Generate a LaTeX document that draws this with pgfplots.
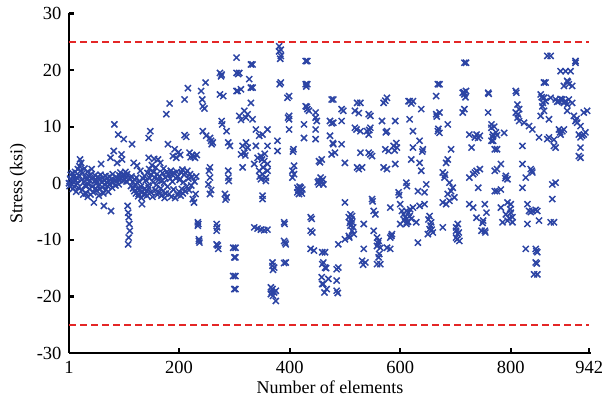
\documentclass[border=0pt]{standalone}
\usepackage{fontspec}
\setmainfont{Liberation Serif}
\usepackage{pgfplots}
\pgfplotsset{compat=1.18}
\definecolor{mblue}{RGB}{44,68,164}
\definecolor{mred}{RGB}{228,38,38}
\begin{document}
\begin{tikzpicture}
\begin{axis}[
 scale only axis, width=522pt, height=339.5pt,
 xmin=1, xmax=945, ymin=-30, ymax=30,
 axis lines=left, axis line style={-, line width=2.6pt},
 xtick={1,200,400,600,800,942}, ytick={-30,-20,-10,0,10,20,30},
 tick align=inside, major tick length=5pt, tick style={line width=2.2pt, black},
 tick label style={font=\fontsize{18.5}{20}\selectfont},
 xticklabel style={yshift=-5pt},
 yticklabel style={xshift=-4pt},
 label style={font=\fontsize{18}{20}\selectfont},
 /pgf/number format/assume math mode=true,
 xlabel={Number of elements}, ylabel={Stress (ksi)},
 xlabel style={at={(axis description cs:0.5,0)}, anchor=base, yshift=-41pt},
 ylabel style={at={(axis description cs:-0.0977,0.5)}, anchor=center},
]
\coordinate (SW) at (rel axis cs:0,0);
\coordinate (NE) at (rel axis cs:1,1);
\addplot[mred, line width=2pt, dash pattern=on 7pt off 4pt] coordinates {(1,25) (942,25)};
\addplot[mred, line width=2pt, dash pattern=on 7pt off 4pt] coordinates {(1,-25) (942,-25)};
\addplot[only marks, mark=x, mark size=4.3pt, mblue, mark options={line width=1.5pt}] coordinates {
(1,0) (2,-0.5) (3,0.8) (4,1.5) (5,-0.2) (6,0.4) (7,1.8) (8,-1) (9,0.3) (10,1.2) (11,-0.6) (12,2) (13,0.5) (14,-1.5) (15,1) (16,0) (17,2.5) (18,-0.8) (19,1.4) (20,3) (21,4.2) (22,2.2) (23,3.6) (24,0.6) (25,-1.2) (26,1.8) (27,-2) (28,0.2) (29,2.6) (30,-0.4) (31,1) (32,-1.8) (33,0.7) (34,2) (35,-2.4) (36,-0.2) (37,1.2) (38,-1) (39,0.5) (40,-2) (41,1.6) (42,2.5) (43,-0.6) (44,0.9) (45,-1.6) (46,-3.4) (47,0.3) (48,1.4) (49,-0.9) (50,0.6) (51,-1.3) (52,0.1) (53,1.1) (54,-0.5) (55,-2.2) (56,0.8) (57,-1) (58,1.5) (59,3.4) (60,0.2) (61,-0.7) (62,1) (63,-1.8) (64,-4) (65,0.5) (66,-0.3) (67,1.3) (68,-1.1) (69,0.2) (70,0.9) (71,-0.5) (72,-1.5) (73,0.4) (74,1.2) (75,-0.2) (76,4.5) (77,-4.9) (78,0.7) (79,-0.8) (80,1.6) (81,0.1) (82,5.7) (83,10.4) (84,0.5) (85,-0.4) (86,1.1) (87,0.3) (88,3.6) (89,0.8) (90,8.6) (91,-0.2) (92,1.4) (93,0.6) (94,1.9) (95,0.9) (96,5.1) (97,4.2) (98,1.2) (99,0.4) (100,7.8) (101,1.5) (102,0.7) (103,2) (104,1) (105,0.3) (106,1.6) (107,-4) (108,-5.2) (109,-6) (110,-7.2) (111,-8.4) (109,-9.6) (108,-10.8) (112,0.8) (113,-0.5) (114,1.2) (115,6.9) (116,0.2) (117,-0.9) (118,3.6) (119,-1.4) (120,0.6) (121,-0.2) (122,-1.8) (123,1) (124,3.1) (125,-1) (126,-2.3) (127,-1.9) (128,0.3) (129,-1.2) (130,2.2) (131,-0.6) (132,-2.6) (133,-3.7) (134,-1.5) (135,0.8) (136,-2) (137,1.3) (138,-0.9) (139,-1.9) (140,0.5) (141,-1.4) (142,-2.2) (143,1.8) (144,-0.4) (145,-0.8) (145,4.5) (145,8) (148,9.2) (146,2.5) (147,0.9) (149,-1.6) (150,1.5) (151,3.2) (152,-2.4) (153,0.2) (154,2) (155,4.3) (156,1) (157,-1.2) (158,2.8) (159,-0.3) (160,1.6) (161,-2) (162,4.2) (163,0.6) (164,-1.6) (165,1.2) (166,3.6) (167,-0.9) (168,-2.2) (169,0.4) (170,1.8) (171,-1.4) (172,2.6) (173,0.1) (174,-2.6) (175,1) (176,-1.8) (177,12.2) (178,2) (179,-0.6) (180,6.9) (181,1.4) (182,-1.9) (183,14.1) (184,0.8) (185,2.2) (186,-2.4) (187,1.6) (188,0.3) (189,4.8) (190,-1.1) (191,1.8) (192,6) (193,-2.6) (194,0.9) (195,4.5) (196,2) (197,-2) (198,1.2) (199,5.5) (200,-1.5) (201,0.6) (202,5) (203,-2.2) (204,1.9) (205,-1) (206,2.4) (207,-1.8) (208,0.2) (209,1.5) (210,14.8) (210,8.5) (211,-1.4) (212,1.8) (213,8.2) (214,-0.6) (215,2.2) (216,16.8) (217,0.8) (218,-1.2) (219,5.4) (220,1.6) (221,4.6) (222,-0.4) (223,1.1) (224,5) (225,-2.8) (226,4.7) (227,-3.4) (228,0.3) (229,4.5) (230,-1.9) (232,5) (231,1.2)
(234,-6.9) (234,-7.5) (236,-9.9) (237,-10.5) (235,-7.2) (236,-10.2)
(240,16.3) (242,14.8) (243,13.6) (246,13.2) (248,17.8) (243,9.2) (249,8.4) (256,8) (259,6.9) (261,7.2) (258,7.5) (256,2.8) (256,1) (253,-0.2) (256,-1.9) (258,-1.2) (254,2.2)
(268,-7.2) (268,-8.4) (268,-10.8) (271,-11.6) (270,-11) (269,-7.8)
(274,19.5) (277,19.2) (274,15.7) (280,15.4) (277,11) (278,10.4) (276,18.9)
(286,9.2) (289,7.2) (292,6.6) (289,2.2) (289,1) (283,-1.9) (286,-2.5) (284,-2.9) (290,0.4)
(298,-11.4) (300,-13.1) (298,-16.4) (300,-18.7) (302,-11.4) (302,-13.1) (302,-16.4) (302,-18.7)
(304,22.2) (304,19.5) (304,16.3) (309,19.5) (306,16.3) (312,16.6) (307,19.3)
(330,21) (333,21) (327,18.4) (330,16.9) (333,16.9)
(309,11.9) (318,12.8) (324,12.2) (330,14.2) (333,11.3) (312,11.2) (321,11.6)
(315,6.6) (321,7.2) (318,5.4) (315,2.8) (324,6.3) (339,6.6) (312,5.1) (320,4.9)
(339,9.5) (360,9.5) (351,8.6) (345,8.4) (360,6.6)
(342,4.5) (348,4.8) (354,3.9) (360,3.4) (336,3.4) (345,2.2) (351,1.6) (357,1) (360,2.2) (348,0.7) (357,0.4) (352,2.8) (346,1.2) (355,5.2) (350,4.2)
(351,-2.2) (351,-2.8) (336,-7.8) (348,-8.2) (360,-8.2) (342,-8) (354,-8.3)
(369,-14) (369,-14.6) (372,-14.9) (370,-15.3)
(366,-18.4) (369,-18.7) (372,-19.3) (375,-20.8) (366,-19.6) (375,-19) (370,-19.9) (368,-19.2)
(381,24.2) (384,23.6) (384,22.5) (381,23.3) (384,17.8) (382,17.5) (383,22)
(378,7.5) (378,5.7)
(399,15.4) (396,15.1) (399,11.9) (399,11.3) (399,9.5) (397,11.6)
(407,6) (408,3.1) (405,2.2) (408,1.6) (405,1) (406,5.6)
(414,-0.8) (420,-1.4) (417,-1.9) (423,-1.1) (414,-1.6) (420,-0.8) (416,-1.2) (422,-1.8) (418,-0.6)
(390,-6.9) (390,-10.2) (393,-10.8) (393,-14) (391,-7.2) (392,-10.5) (390,-14.1)
(429,21.6) (432,21.6) (429,17.5) (432,17.5) (430,17.1)
(429,13.6) (432,13.1) (435,12.8) (426,10.4) (426,8) (431,13.5)
(438,-6) (438,-8.4) (441,-8.7) (438,-11.6) (444,-11.9) (440,-6.3)
(447,12.5) (447,11.6) (447,9.5) (447,7.8) (449,11)
(453,3.9) (453,0.4) (453,-0.2) (456,1) (455,3.7) (451,0.2)
(459,-12.2) (459,-14.3) (459,-17.8)
(479,14.8) (476,14.8) (494,13.1) (497,12.8) (473,11) (479,10.7) (494,11) (476,10.6)
(473,8.4) (479,6.9) (482,5.4) (476,5.1) (494,6.9) (500,3.6) (478,7.1)
(458,4.2) (458,0.4) (461,-0.2) (460,0.7)
(500,-3.4) (510,-5.5) (513,-5.8) (507,-6) (513,-6.9) (510,-7.5) (513,-8.4) (516,-9) (507,-9.3) (500,-9.9) (488,-10.8) (512,-6.4) (509,-7) (515,-7.8) (508,-9.6)
(464,-12.2) (461,-14) (464,-14.9) (458,-16.6) (470,-16.9) (461,-17.8) (467,-18.7) (485,-19) (485,-17.2) (485,-15.2) (488,-14.9) (466,-15) (463,-19.3) (487,-19.4)
(522,14.2) (528,14.2) (518,12.8) (543,12.2) (546,11.9) (525,12.4)
(518,9.8) (528,9.2) (540,9.2) (546,9.8) (543,8.6) (521,9.5) (544,9.4)
(528,5.4) (543,5.4) (549,4.8) (522,2.8) (531,2.8) (546,5.1) (525,2.5)
(534,-7.2) (534,-11.6) (531,-13.7) (537,-14) (533,-14.4)
(549,-2.8) (552,-4.9) (555,-5.5) (550,-3.2)
(552,-8.4) (558,-9.6) (561,-10.2) (558,-11.1) (564,-11.4) (561,-13.1) (558,-14.3) (564,-14.3) (560,-10.6) (562,-12.5)
(570,14.2) (576,15.1) (567,11) (576,9.2) (591,11) (573,14.6) (574,9)
(570,2.8) (576,2.5) (573,6) (579,5.7) (588,6.6) (594,6.3) (591,3.4) (590,5.8) (593,7.1)
(582,-4.3) (585,-9) (582,-9.6) (576,-11.4) (582,-11.6) (584,-9.3)
(597,-1.6) (600,-3.7) (603,-4.9) (606,-5.5) (609,-6) (600,-7.2) (612,-6.9) (598,-2.1) (607,-6.5)
(615,14.5) (617,14.5) (623,14.5) (638,13.1) (620,14.1)
(617,11.3) (623,9.2) (635,7.5) (641,6) (623,6.3) (620,4.2) (635,3.6) (638,2.2) (640,5.6)
(611,0.1) (647,-0.2) (644,-1.6) (632,-1.4) (612,-0.5)
(611,-4.9) (617,-5.8) (623,-4.3) (635,-4) (644,-3.7) (629,-6.9) (611,-7.2) (615,-5.2) (620,-6.3) (614,-6.8) (618,-4.6)
(653,-5.8) (656,-6.9) (653,-8.1) (659,-8.7) (650,-9) (677,-7.8) (632,-10.5) (655,-7.5) (657,-8.2) (651,-6.4)
(665,15.4) (665,12.2) (671,12.5) (671,17.5) (668,17.5) (666,11.8)
(668,9.2) (671,8.9) (686,10.4) (669,9.6)
(692,6) (686,4.2) (683,3.6)
(677,1.9) (680,1) (689,0.1) (695,-0.8) (692,-1.4) (686,-1.9) (698,-2.5) (677,-3.4) (683,-3.7) (689,-3.1) (681,1.5)
(704,-7.2) (701,-8.4) (704,-9) (701,-9.6) (707,-10.2) (701,-7.8) (703,-9.9) (706,-8.7)
(716,21.3) (719,21.3)
(713,16) (716,15.7) (719,16.3) (713,12.5) (716,13.1) (718,15.2) (715,16.1)
(725,8.6) (738,8.6) (735,8.1) (744,8.4) (729,6.3) (741,8)
(725,1) (732,1.6) (738,2.2) (744,2.5) (741,-0.8) (735,1.9)
(725,-3.7) (732,-4.3) (738,-6.1) (753,-3.7) (756,-5.2) (750,-6.6) (753,-8.4) (747,-8.4) (754,-8.7) (749,-7)
(759,16) (759,12.5) (760,15.8)
(765,9.8) (768,8.6) (765,7.5) (771,6) (765,10.4) (767,8.2)
(771,2.2) (771,-1.4)
(770,10) (773,9) (775,8.5) (768,7.5)
(788,8.9) (775,6) (782,3.4) (775,2.5) (791,1.3) (794,0.7) (790,0.9)
(775,-1.4) (782,-1.1)
(782,-4.3) (794,-3.4) (800,-3.7) (785,-6.9) (794,-6.6) (803,-6) (791,-5.5) (800,-5.2) (803,-6.9) (797,-6.2) (799,-4.6)
(809,16.3) (812,13.9) (815,13.1) (809,12.5) (812,11.6) (815,11) (824,10.7) (833,10.1) (839,9.5) (810,16) (813,12.2)
(821,6.6) (821,3.4) (836,2.5) (839,1.9) (827,1) (821,-0.8) (838,2.2)
(830,-3.7) (833,-4.9) (839,-4.9) (848,-4.9) (830,-7.2) (851,-6.6) (845,-4.7) (836,-5.1)
(827,-11.6) (845,-11.6) (848,-12.2) (845,-14) (848,-16.1) (842,-16.1) (846,-12) (847,-14.2)
(860,17.8) (863,17.8)
(854,15.7) (860,15.1) (863,14.5) (857,13.6) (860,12.8) (854,11.9) (869,11.3) (866,7.8) (878,6.6) (881,6.3) (856,15.2) (858,14.2)
(872,22.5) (866,22.5)
(872,15.1) (881,14.8) (887,14.5) (893,14.8) (899,14.5) (905,14.8) (911,14.2) (896,14.2) (902,13.9) (884,14.4) (890,14.9)
(890,19.8) (899,19.8) (908,19.8) (902,18.1) (905,17.5) (896,17.2) (911,17.2) (917,21.3) (917,21.6) (903,17.9)
(887,9.5) (893,9.2) (890,8.6) (896,9.5) (889,9)
(875,-0.2) (881,0.1) (875,-2.8) (878,-6.9) (872,-6.9)
(902,12.8) (914,11.9) (917,11) (920,10.7) (926,10.1) (932,12.5) (938,12.8) (919,11.4)
(923,8.6) (929,8.4) (932,8.6) (926,8.1) (935,9)
(926,6.3) (926,4.5) (923,4.8)
(851,8.1) (869,8.1) (878,7.7)
};
\end{axis}
\pgfresetboundingbox
\path ([shift={(-69pt,-49pt)}]SW) rectangle ([shift={(14pt,13.5pt)}]NE);
\end{tikzpicture}
\end{document}
